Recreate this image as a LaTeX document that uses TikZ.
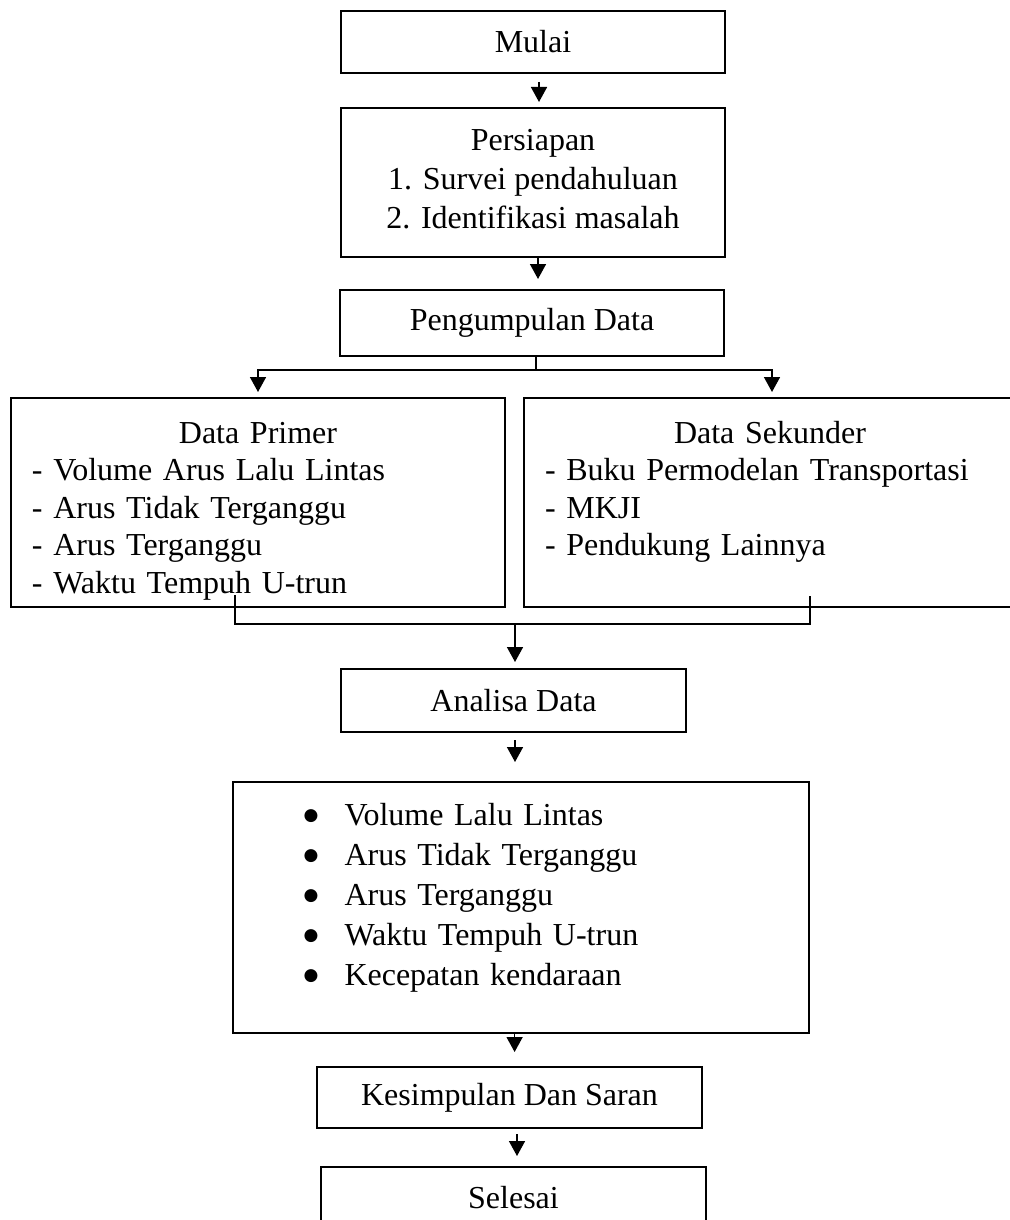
\documentclass[tikz,border=0pt]{standalone}
\usepackage{fontspec}
\setmainfont{Liberation Serif}
\newfontfamily\simbol{DejaVu Sans}
\usetikzlibrary{arrows.meta}

\tikzset{
  box/.style={draw, line width=1pt, rectangle, inner sep=0pt, align=center,
    font=\fontsize{16}{19.5}\selectfont},
  listbox/.style={box, align=left, inner xsep=10.5pt,
    font=\fontsize{16}{18.75}\selectfont},
  line/.style={line width=0.8pt},
  arr/.style={line, -{Triangle[width=8pt,length=7.5pt]}},
}
\newcommand{\butir}{\makebox[20.5pt][l]{\raisebox{2.6pt}{\simbol\fontsize{8.5}{8.5}\selectfont ●}}}

\begin{document}
\begin{tikzpicture}[x=0.5pt, y=-0.5pt]
  \useasboundingbox (0,0) rectangle (1009,1220);
  % Boxes:
  \node[box, minimum width=192pt, minimum height=31pt] (mulai) at (533,42) {Mulai};
  \node[box, minimum width=192pt, minimum height=74.5pt] (persiapan) at (533,182.5)
    {Persiapan\\ 1. Survei pendahuluan\\ 2. Identifikasi masalah\rule[-4pt]{0pt}{4pt}};
  \node[box, minimum width=192pt, minimum height=33pt] (pengumpulan) at (532,323) {Pengumpulan Data};
  \node[listbox, text width=226pt, minimum height=104.5pt] (primer) at (258,502.5)
    {\rule{0pt}{19pt}\hfill Data Primer\hfill\null\\
     - Volume Arus Lalu Lintas\\
     - Arus Tidak Terganggu\\
     - Arus Terganggu\\
     - Waktu Tempuh U-trun};
  \node[listbox, text width=225pt, minimum height=104.5pt] (sekunder) at (770,502.5)
    {\rule{0pt}{19pt}\hfill Data Sekunder\hfill\null\\
     - Buku Permodelan Transportasi\\
     - MKJI\\
     - Pendukung Lainnya\\
     \phantom{Tp}};
  \node[box, minimum width=172.5pt, minimum height=31.5pt] (analisa) at (513.5,700.5) {Analisa Data};
  \node[box, align=left, inner xsep=35.25pt, text width=217.5pt, minimum height=125.5pt,
    font=\fontsize{16}{20}\selectfont] (hasil) at (521,907.5)
    {\butir Volume Lalu Lintas\\
     \butir Arus Tidak Terganggu\\
     \butir Arus Terganggu\\
     \butir Waktu Tempuh U-trun\\
     \butir Kecepatan kendaraan\\[-7pt]
     \mbox{}};
  \node[box, minimum width=192.5pt, minimum height=30.5pt] (kesimpulan) at (509.5,1097.5) {Kesimpulan Dan Saran};
  \node[box, minimum width=192.5pt, minimum height=31pt] (selesai) at (513.5,1198) {Selesai};

  % Connectors:
  \draw[arr, shorten <=4pt, shorten >=2.5pt] ([xshift=3pt]mulai.south) -- ([xshift=3pt]mulai.south |- persiapan.north);
  \draw[arr, shorten >=5pt] ([xshift=2.5pt]persiapan.south) -- ([xshift=2.5pt]persiapan.south |- pengumpulan.north);
  \coordinate (cabang) at (536,370);
  \draw[line] (pengumpulan.south -| cabang) -- (cabang);
  \draw[arr, shorten >=2.5pt] (cabang) -| (primer.north);
  \draw[arr, shorten >=2.5pt] (cabang) -| ([xshift=1pt]sekunder.north);
  \coordinate (pk) at (235,595);
  \coordinate (sk) at (810,596);
  \coordinate (gabung) at (515,624);
  \draw[line] (pk) |- (gabung) -| (sk);
  \draw[arr, shorten >=3pt] (gabung) -- (gabung |- analisa.north);
  \draw[arr, shorten <=3.5pt, shorten >=9.5pt] ([xshift=0.75pt]analisa.south) -- ([xshift=0.75pt]analisa.south |- hasil.north);
  \draw[arr, shorten >=7pt] ([xshift=-3.2pt]hasil.south) -- ([xshift=-3.2pt]hasil.south |- kesimpulan.north);
  \draw[arr, shorten <=2.5pt, shorten >=5pt] ([xshift=3.75pt]kesimpulan.south) -- ([xshift=3.75pt]kesimpulan.south |- selesai.north);
\end{tikzpicture}
\end{document}
